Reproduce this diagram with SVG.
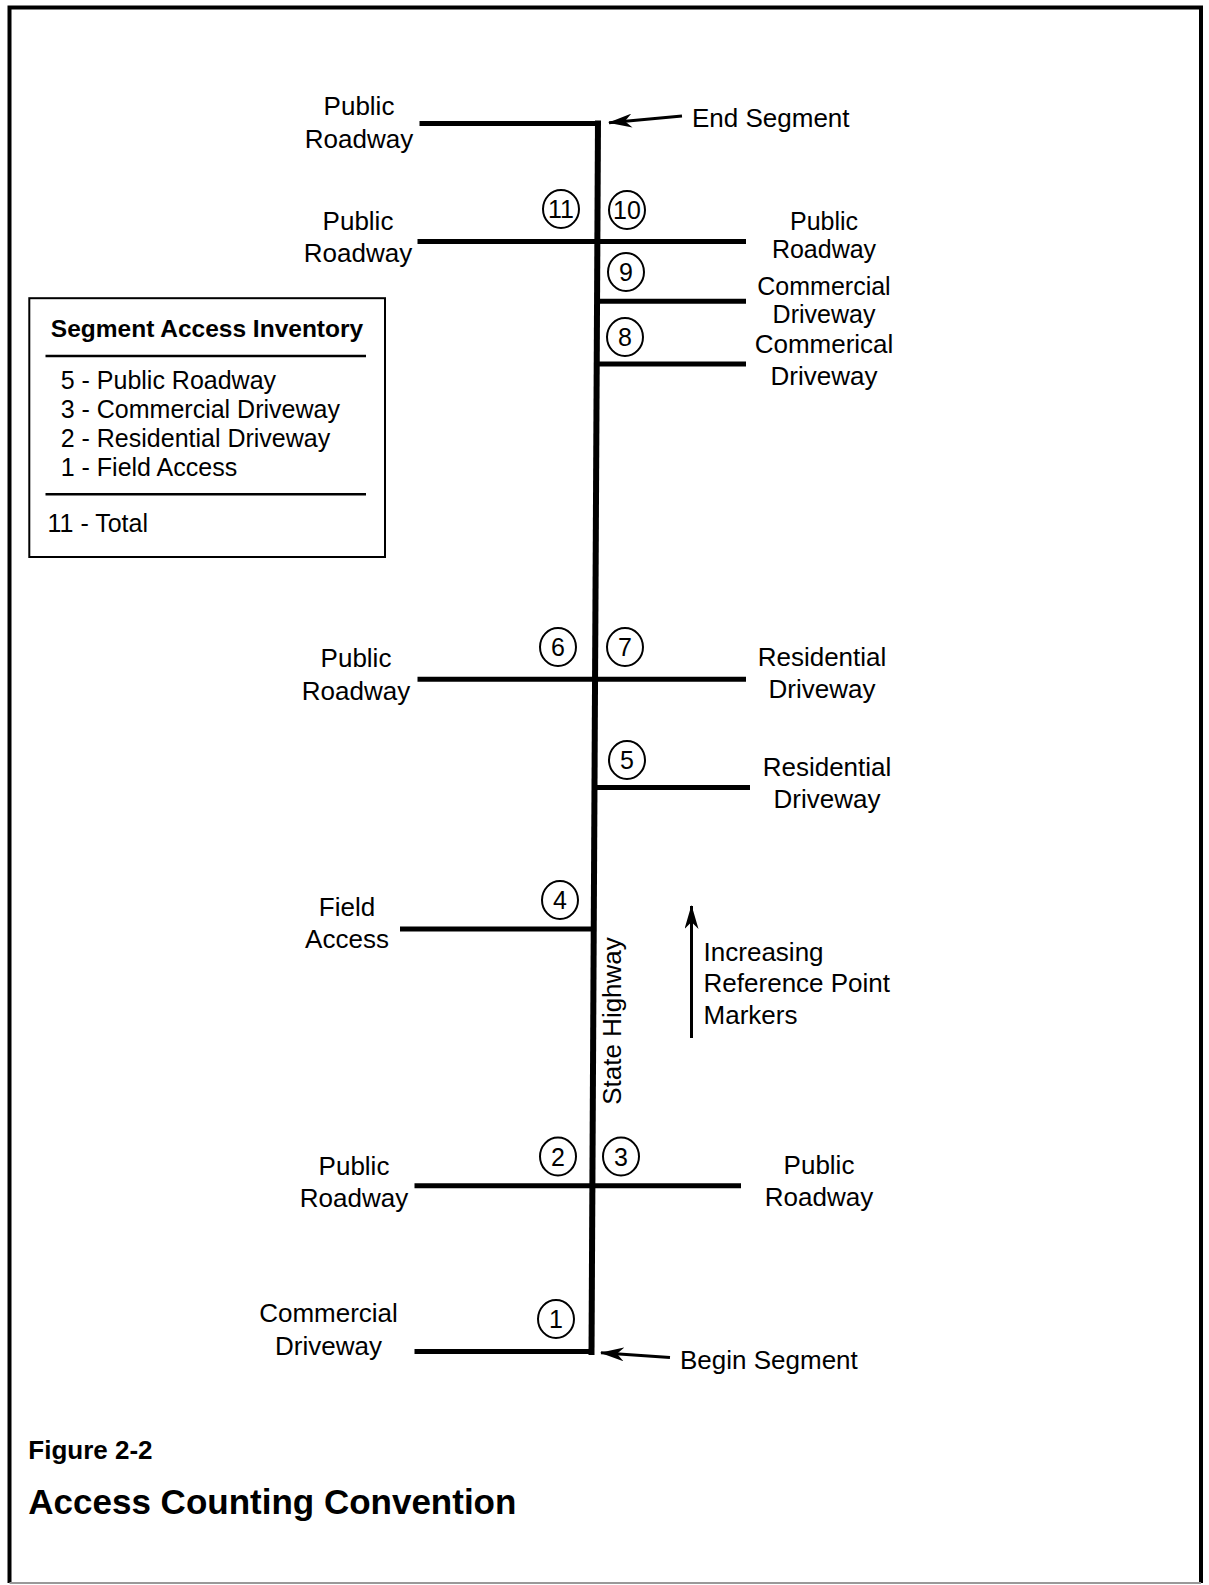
<svg xmlns="http://www.w3.org/2000/svg" width="1209" height="1585" viewBox="0 0 1209 1585">
<defs>
<style>
.t{font-family:"Liberation Sans",Arial,Helvetica,sans-serif;font-size:26px;fill:#000}
.m{text-anchor:middle}
.b{font-weight:bold}
.lg{font-size:25px}
.lt{font-size:24.5px}
.sm{font-size:25px}
.road{stroke:#000;stroke-width:5;fill:none}
.c{fill:none;stroke:#000;stroke-width:2}
.n{font-family:"Liberation Sans",Arial,Helvetica,sans-serif;font-size:25px;text-anchor:middle;fill:#000}
.ar{stroke:#000;stroke-width:3;fill:none}
</style>
<marker id="ah" viewBox="0 0 24 14" refX="23" refY="7" markerWidth="24" markerHeight="14" markerUnits="userSpaceOnUse" orient="auto">
<path d="M24,7 L0,0 L7,7 L0,14 Z" fill="#000"/>
</marker>
</defs>
<rect width="1209" height="1585" fill="#fff"/>
<g id="frame">
<path d="M9.5,1583 L9.5,7.5 L1201,7.5 L1201,1583" fill="none" stroke="#000" stroke-width="4"/>
<line x1="9.5" y1="1583" x2="1201" y2="1583" stroke="#999" stroke-width="2"/>
</g>
<g id="connectors">
<line id="highway" x1="598" y1="120.5" x2="591.5" y2="1355" stroke="#000" stroke-width="6"/>
<line id="end-arrow" x1="682" y1="116" x2="609" y2="122.7" class="ar" marker-end="url(#ah)"/>
<line id="begin-arrow" x1="670" y1="1357.5" x2="601" y2="1352.7" class="ar" marker-end="url(#ah)"/>
<line id="ref-arrow" x1="691.5" y1="1038" x2="691.5" y2="906" class="ar" stroke-width="2.5" marker-end="url(#ah)"/>
</g>
<g id="end-segment-road">
<line class="road" x1="419.5" y1="123.5" x2="598" y2="123.5"/>
<text class="t m" x="359" y="115">Public</text>
<text class="t m" x="359" y="147.5">Roadway</text>
<text class="t" x="692" y="127">End Segment</text>
</g>
<g id="access-11">
<line class="road" x1="417.5" y1="241.6" x2="597.4" y2="241.6"/>
<ellipse class="c" cx="561" cy="209" rx="18" ry="19"/>
<text class="n" x="561" y="218">11</text>
<text class="t m" x="358" y="229.5">Public</text>
<text class="t m" x="358" y="262">Roadway</text>
</g>
<g id="access-10">
<line class="road" x1="597.4" y1="241.6" x2="746" y2="241.6"/>
<ellipse class="c" cx="627" cy="210" rx="18" ry="19"/>
<text class="n" x="627" y="219">10</text>
<text class="t sm m" x="824" y="229.5">Public</text>
<text class="t sm m" x="824" y="257.5">Roadway</text>
</g>
<g id="access-9">
<line class="road" x1="597.1" y1="301.2" x2="746" y2="301.2"/>
<ellipse class="c" cx="626" cy="272" rx="18" ry="19"/>
<text class="n" x="626" y="281">9</text>
<text class="t sm m" x="824" y="295">Commercial</text>
<text class="t sm m" x="824" y="323">Driveway</text>
</g>
<g id="access-8">
<line class="road" x1="596.7" y1="364" x2="746" y2="364"/>
<ellipse class="c" cx="625" cy="337" rx="18" ry="19"/>
<text class="n" x="625" y="346">8</text>
<text class="t m" x="824" y="353">Commerical</text>
<text class="t m" x="824" y="385">Driveway</text>
</g>
<g id="legend">
<rect x="29.3" y="298.2" width="355.7" height="258.8" fill="none" stroke="#000" stroke-width="2"/>
<text class="t b lt m" x="207" y="337">Segment Access Inventory</text>
<line x1="45.5" y1="356" x2="366" y2="356" stroke="#000" stroke-width="2.5"/>
<text class="t lg" x="60.7" y="388.5">5 - Public Roadway</text>
<text class="t lg" x="60.7" y="418">3 - Commercial Driveway</text>
<text class="t lg" x="60.7" y="446.5">2 - Residential Driveway</text>
<text class="t lg" x="60.7" y="475.5">1 - Field Access</text>
<line x1="45.5" y1="494.3" x2="366" y2="494.3" stroke="#000" stroke-width="2.5"/>
<text class="t lg" x="47.5" y="532">11 - Total</text>
</g>
<g id="access-6">
<line class="road" x1="417.5" y1="679.3" x2="595.1" y2="679.3"/>
<ellipse class="c" cx="558" cy="647" rx="18" ry="19"/>
<text class="n" x="558" y="656">6</text>
<text class="t m" x="356" y="667">Public</text>
<text class="t m" x="356" y="699.5">Roadway</text>
</g>
<g id="access-7">
<line class="road" x1="595.1" y1="679.3" x2="746" y2="679.3"/>
<ellipse class="c" cx="625" cy="647" rx="18" ry="19"/>
<text class="n" x="625" y="656">7</text>
<text class="t m" x="822" y="666">Residential</text>
<text class="t m" x="822" y="698">Driveway</text>
</g>
<g id="access-5">
<line class="road" x1="594.5" y1="787.5" x2="750" y2="787.5"/>
<ellipse class="c" cx="627" cy="760" rx="18" ry="19"/>
<text class="n" x="627" y="769">5</text>
<text class="t m" x="827" y="776">Residential</text>
<text class="t m" x="827" y="807.5">Driveway</text>
</g>
<g id="access-4">
<line class="road" x1="400" y1="929" x2="593.7" y2="929"/>
<ellipse class="c" cx="560" cy="900" rx="18" ry="19"/>
<text class="n" x="560" y="909">4</text>
<text class="t m" x="347" y="916">Field</text>
<text class="t m" x="347" y="948">Access</text>
</g>
<g id="highway-label">
<text class="t m" x="621" y="1021" transform="rotate(-90 621 1021)">State Highway</text>
</g>
<g id="reference-note">
<text class="t" x="703.6" y="961">Increasing</text>
<text class="t" x="703.6" y="991.5">Reference Point</text>
<text class="t" x="703.6" y="1024">Markers</text>
</g>
<g id="access-2">
<line class="road" x1="414.5" y1="1185.8" x2="592.4" y2="1185.8"/>
<ellipse class="c" cx="558" cy="1156.5" rx="18" ry="19"/>
<text class="n" x="558" y="1165.5">2</text>
<text class="t m" x="354" y="1174.5">Public</text>
<text class="t m" x="354" y="1207">Roadway</text>
</g>
<g id="access-3">
<line class="road" x1="592.4" y1="1185.8" x2="741" y2="1185.8"/>
<ellipse class="c" cx="621" cy="1156.5" rx="18" ry="19"/>
<text class="n" x="621" y="1165.5">3</text>
<text class="t m" x="819" y="1173.5">Public</text>
<text class="t m" x="819" y="1206">Roadway</text>
</g>
<g id="access-1">
<line class="road" x1="414.5" y1="1351.5" x2="594" y2="1351.5"/>
<ellipse class="c" cx="556" cy="1319" rx="18" ry="19"/>
<text class="n" x="556" y="1328">1</text>
<text class="t m" x="328.5" y="1322">Commercial</text>
<text class="t m" x="328.5" y="1354.5">Driveway</text>
<text class="t" x="680" y="1369">Begin Segment</text>
</g>
<g id="caption">
<text class="t b" x="28.3" y="1459">Figure 2-2</text>
<text class="t b" x="28.3" y="1514" style="font-size:35px">Access Counting Convention</text>
</g>
</svg>
